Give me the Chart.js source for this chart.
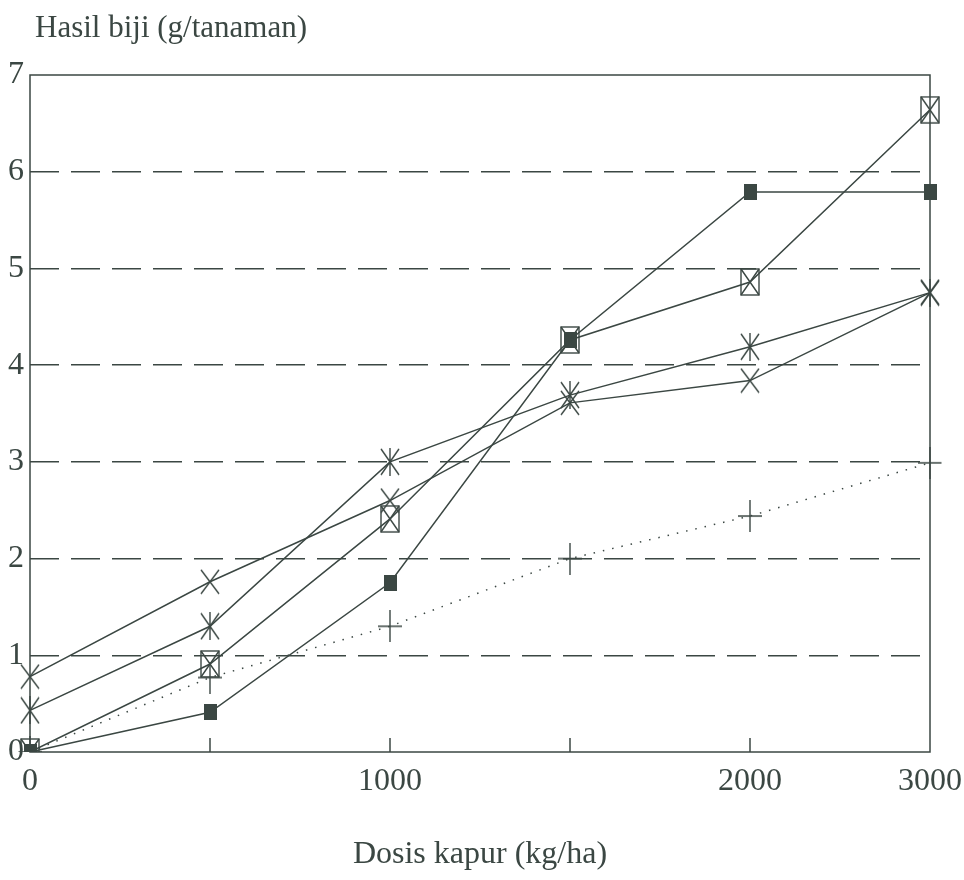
<!DOCTYPE html>
<html>
<head>
<meta charset="utf-8">
<script src="https://cdn.jsdelivr.net/npm/chart.js@4"></script>
<style>
  html, body { margin: 0; padding: 0; background: #ffffff; }
  #wrap { width: 964px; height: 880px; }
</style>
</head>
<body>
<div id="wrap"><canvas id="c" width="964" height="880"></canvas></div>
<script>
// ---- data ----
const categories = [0, 500, 1000, 1500, 2000, 3000];
const tickLabels = ['0', '', '1000', '', '2000', '3000'];
const filledSquare = [0, 0.41, 1.75, 4.26, 5.79, 5.79];
const boxedX      = [0, 0.91, 2.41, 4.26, 4.86, 6.64];
const asterisk    = [0.43, 1.30, 3.00, 3.69, 4.19, 4.75];
const xMark       = [0.78, 1.76, 2.60, 3.61, 3.84, 4.75];
const plusMark    = [0, 0.77, 1.30, 2.00, 2.44, 2.99];
const yTitle = 'Hasil biji (g/tanaman)';
const xTitle = 'Dosis kapur (kg/ha)';

const INK = '#3b4743';
const FONT = "'Liberation Serif', 'DejaVu Serif', serif";

function marker(w, h, draw) {
  const c = document.createElement('canvas');
  c.width = w; c.height = h;
  const g = c.getContext('2d');
  g.strokeStyle = INK; g.fillStyle = INK; g.lineWidth = 1.4;
  draw(g, w, h);
  return c;
}
const mFilled = marker(13, 16, (g, w, h) => { g.fillRect(0, 0, w, h); });
const mBoxed = marker(20, 28, (g, w, h) => {
  g.strokeRect(1, 1, w - 2, h - 2);
  g.beginPath(); g.moveTo(1, 1); g.lineTo(w - 1, h - 1);
  g.moveTo(w - 1, 1); g.lineTo(1, h - 1); g.stroke();
});
const mAst = marker(20, 28, (g, w, h) => {
  g.beginPath(); g.moveTo(w / 2, 0); g.lineTo(w / 2, h);
  g.moveTo(1, 1); g.lineTo(w - 1, h - 1);
  g.moveTo(w - 1, 1); g.lineTo(1, h - 1); g.stroke();
});
const mX = marker(20, 26, (g, w, h) => {
  g.beginPath(); g.moveTo(1, 1); g.lineTo(w - 1, h - 1);
  g.moveTo(w - 1, 1); g.lineTo(1, h - 1); g.stroke();
});
const mPlus = marker(24, 32, (g, w, h) => {
  g.beginPath(); g.moveTo(w / 2, 0); g.lineTo(w / 2, h);
  g.moveTo(0, h / 2); g.lineTo(w, h / 2); g.stroke();
});

function ds(data, style, dash) {
  return {
    data: data,
    borderColor: INK,
    backgroundColor: INK,
    borderWidth: 1.5,
    borderDash: dash || [],
    pointStyle: style,
    pointRadius: 10,
    pointHoverRadius: 10,
    tension: 0,
    fill: false
  };
}

const framePlugin = {
  id: 'frame',
  beforeDraw(chart) {
    const ctx = chart.ctx;
    ctx.save();
    ctx.fillStyle = '#ffffff';
    ctx.fillRect(0, 0, chart.width, chart.height);
    ctx.restore();
  },
  beforeDatasetsDraw(chart) {
    const { ctx, chartArea: a, scales } = chart;
    ctx.save();
    ctx.strokeStyle = INK;
    ctx.lineWidth = 1.5;
    ctx.strokeRect(a.left, a.top, a.right - a.left, a.bottom - a.top);
    // inner tick marks on the x axis
    for (let i = 1; i < categories.length - 1; i++) {
      const x = scales.x.getPixelForValue(i);
      ctx.beginPath();
      ctx.moveTo(x, a.bottom);
      ctx.lineTo(x, a.bottom - 14);
      ctx.stroke();
    }
    ctx.restore();
  },
  afterDraw(chart) {
    const ctx = chart.ctx;
    ctx.save();
    ctx.fillStyle = INK;
    ctx.font = '31px ' + FONT;
    ctx.textBaseline = 'alphabetic';
    ctx.textAlign = 'left';
    ctx.fillText(yTitle, 35, 37);
    ctx.restore();
  }
};

new Chart(document.getElementById('c'), {
  type: 'line',
  data: {
    labels: categories,
    datasets: [
      ds(plusMark, mPlus, [1.5, 8]),
      ds(xMark, mX),
      ds(asterisk, mAst),
      ds(boxedX, mBoxed),
      ds(filledSquare, mFilled)
    ]
  },
  options: {
    responsive: false,
    devicePixelRatio: 1,
    animation: false,
    layout: { padding: { top: 75, right: 34, left: 0, bottom: 0 } },
    plugins: { legend: { display: false }, tooltip: { enabled: false } },
    scales: {
      x: {
        type: 'category',
        offset: false,
        grid: { display: false, drawTicks: false },
        border: { display: false },
        ticks: {
          autoSkip: false, maxRotation: 0, minRotation: 0,
          padding: 10,
          color: INK,
          font: { family: FONT, size: 32 },
          callback: (v, i) => tickLabels[i]
        },
        title: {
          display: true, text: xTitle, color: INK,
          font: { family: FONT, size: 32 },
          padding: { top: 0, bottom: 6 }
        },
        afterFit: (s) => { s.height = 128; s.paddingRight = 0; s.paddingLeft = 0; }
      },
      y: {
        min: 0, max: 7,
        grid: {
          drawTicks: false,
          lineWidth: 1.5,
          color: (c) => (c.tick && (c.tick.value === 0 || c.tick.value === 7)) ? 'rgba(0,0,0,0)' : INK
        },
        border: { display: false, dash: [29, 12] },
        ticks: {
          stepSize: 1, padding: 6, color: INK,
          font: { family: FONT, size: 32 }
        },
        afterFit: (s) => { s.width = 30; }
      }
    }
  },
  plugins: [framePlugin]
});
</script>
</body>
</html>
